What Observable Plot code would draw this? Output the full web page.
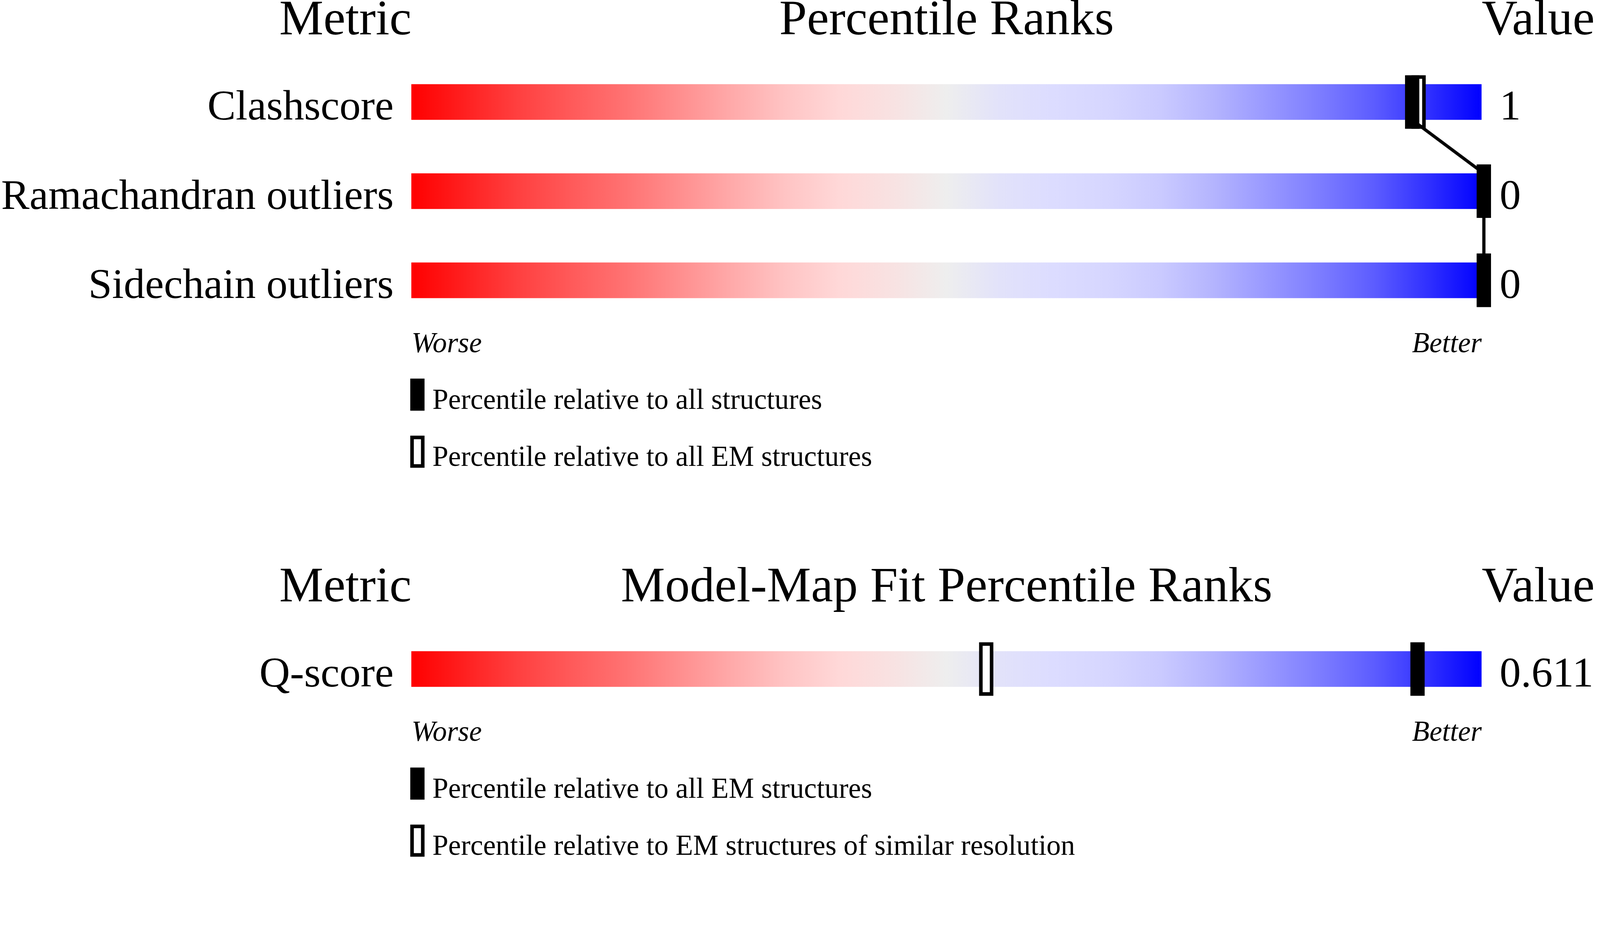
<!DOCTYPE html>
<html>
<head>
<meta charset="utf-8">
<script src="https://cdn.jsdelivr.net/npm/d3@7"></script>
<script src="https://cdn.jsdelivr.net/npm/@observablehq/plot@0.6"></script>
<style>
  html, body { margin: 0; padding: 0; background: #ffffff; overflow: hidden; }
  #chart { width: 100vw; background: #ffffff; }
  #chart svg { display: block; width: 100% !important; max-width: 100% !important; height: auto !important; }
</style>
</head>
<body>
<div id="chart"></div>
<script>
// ---------- Data: geometry-quality section ----------
const metrics = ["Clashscore", "Ramachandran outliers", "Sidechain outliers"];
const metricValues = ["1", "0", "0"];
const pctAllStructures = [93.3, 100, 100];   // filled markers
const pctAllEMStructures = [93.9, 100, 100]; // hollow markers
const headers1 = ["Metric", "Percentile Ranks", "Value"];
const legend1 = ["Percentile relative to all structures", "Percentile relative to all EM structures"];

// ---------- Data: model-map fit section ----------
const fitMetrics = ["Q-score"];
const fitValues = ["0.611"];
const pctAllEM = [93.8];             // filled marker
const pctSimilarResolution = [53.5]; // hollow marker
const headers2 = ["Metric", "Model-Map Fit Percentile Ranks", "Value"];
const legend2 = ["Percentile relative to all EM structures", "Percentile relative to EM structures of similar resolution"];

const axisEnds = ["Worse", "Better"];

// ---------- Styles ----------
const FONT = "'Liberation Serif', 'Times New Roman', Times, serif";
const W = 4485;
const gradOffsets = [0, .05, .10, .15, .20, .25, .30, .35, .40, .45, .50, .55, .60, .65, .70, .75, .80, .85, .90, .95, 1];
const gradColors = ["#ff0000", "#ff2020", "#ff4040", "#ff5a5a", "#ff7272", "#ff8e8e", "#ffaaaa", "#ffc4c4", "#ffd8d8", "#f8e2e2",
                    "#eeeeee", "#e2e2fa", "#dcdcff", "#d6d6ff", "#cacaff", "#b4b4fe", "#9898ff", "#7c7cff", "#5c5cff", "#3030ff", "#0000ff"];

function section({names, values, filled, hollow, headers, gradId, connect}) {
  const rows = names.map((name, i) => ({name, value: values[i], filled: filled[i], hollow: hollow[i], i}));
  const links = connect
    ? rows.slice(0, -1).map((r, k) => ({x1: r.filled, x2: rows[k + 1].filled, y1: r.i + 0.2, y2: rows[k + 1].i - 0.2}))
    : [];
  const n = Math.max(names.length - 1, 1);
  // frame bottom sits 174px below the last bar's centre, as in the reference
  const height = 286 + 250 * (names.length - 1) + 224;
  const svg = Plot.plot({
    width: W,
    height,
    marginLeft: 1153, marginRight: 332, marginTop: 0, marginBottom: 0,
    style: {fontFamily: FONT, background: "#ffffff", color: "#000000"},
    x: {domain: [0, 100], range: [1153, 4153], axis: null},
    y: {domain: [0, n], range: [286, 286 + 250 * n], axis: null},
    marks: [
      // gradient bars
      Plot.rect(rows, {x1: () => 0, x2: () => 100, y1: d => d.i - 0.2, y2: d => d.i + 0.2, fill: `url(#${gradId})`}),
      // hollow markers
      Plot.ruleX(rows, {x: "hollow", y1: d => d.i - 0.3, y2: d => d.i + 0.3, stroke: "#000000", strokeWidth: 40, dx: 6}),
      Plot.ruleX(rows, {x: "hollow", y1: d => d.i - 0.26, y2: d => d.i + 0.26, stroke: "#ffffff", strokeWidth: 20, dx: 6}),
      // connector
      Plot.link(links, {x1: "x1", y1: "y1", x2: "x2", y2: "y2", stroke: "#000000", strokeWidth: 9, dx: 6}),
      // filled markers
      Plot.ruleX(rows, {x: "filled", y1: d => d.i - 0.3, y2: d => d.i + 0.3, stroke: "#000000", strokeWidth: 40, dx: 6}),
      // row labels
      Plot.text(rows, {x: () => 0, y: "i", text: "name", textAnchor: "end", dx: -50, dy: 49, lineAnchor: "bottom", fontSize: 119, fontFamily: FONT, fill: "#000000"}),
      // values
      Plot.text(rows, {x: () => 100, y: "i", text: "value", textAnchor: "start", dx: 50, dy: 49, lineAnchor: "bottom", fontSize: 119, fontFamily: FONT, fill: "#000000"}),
      // headers
      Plot.text([headers[0]], {x: () => 0, text: d => d, textAnchor: "end", frameAnchor: "top", dy: 96, lineAnchor: "bottom", fontSize: 139, fontFamily: FONT, fill: "#000000"}),
      Plot.text([headers[1]], {x: () => 50, text: d => d, textAnchor: "middle", frameAnchor: "top", dy: 96, lineAnchor: "bottom", fontSize: 139, fontFamily: FONT, fill: "#000000"}),
      Plot.text([headers[2]], {x: () => 100, text: d => d, textAnchor: "start", frameAnchor: "top", dy: 96, lineAnchor: "bottom", fontSize: 139, fontFamily: FONT, fill: "#000000"}),
      // worse / better
      Plot.text([axisEnds[0]], {x: () => 0, text: d => d, textAnchor: "start", frameAnchor: "bottom", dy: -23, lineAnchor: "bottom", fontSize: 80, fontStyle: "italic", fontFamily: FONT, fill: "#000000"}),
      Plot.text([axisEnds[1]], {x: () => 100, text: d => d, textAnchor: "end", frameAnchor: "bottom", dy: -23, lineAnchor: "bottom", fontSize: 80, fontStyle: "italic", fontFamily: FONT, fill: "#000000"})
    ]
  });
  const defs = d3.select(svg).insert("defs", ":first-child");
  const lg = defs.append("linearGradient").attr("id", gradId).attr("x1", "0").attr("x2", "1").attr("y1", "0").attr("y2", "0");
  gradOffsets.forEach((o, k) => lg.append("stop").attr("offset", o).attr("stop-color", gradColors[k]));
  return svg;
}

function legend(items, height) {
  const svg = d3.create("svg").attr("width", W).attr("height", height).attr("viewBox", `0 0 ${W} ${height}`)
    .style("display", "block").style("background", "#ffffff");
  items.forEach((t, k) => {
    const y0 = 52 + k * 160;
    if (k === 0) {
      svg.append("rect").attr("x", 1150).attr("y", y0).attr("width", 40).attr("height", 90).attr("fill", "#000000");
    } else {
      svg.append("rect").attr("x", 1155).attr("y", y0 + 5).attr("width", 30).attr("height", 80)
        .attr("fill", "#ffffff").attr("stroke", "#000000").attr("stroke-width", 10);
    }
    svg.append("text").attr("x", 1212).attr("y", y0 + 85).attr("font-family", FONT).attr("font-size", 80)
      .attr("fill", "#000000").text(t);
  });
  return svg.node();
}

const root = document.getElementById("chart");
root.appendChild(section({names: metrics, values: metricValues, filled: pctAllStructures, hollow: pctAllEMStructures,
                          headers: headers1, gradId: "grad1", connect: true}));
root.appendChild(legend(legend1, 580));
root.appendChild(section({names: fitMetrics, values: fitValues, filled: pctAllEM, hollow: pctSimilarResolution,
                          headers: headers2, gradId: "grad2", connect: false}));
root.appendChild(legend(legend2, 302));
</script>
</body>
</html>
